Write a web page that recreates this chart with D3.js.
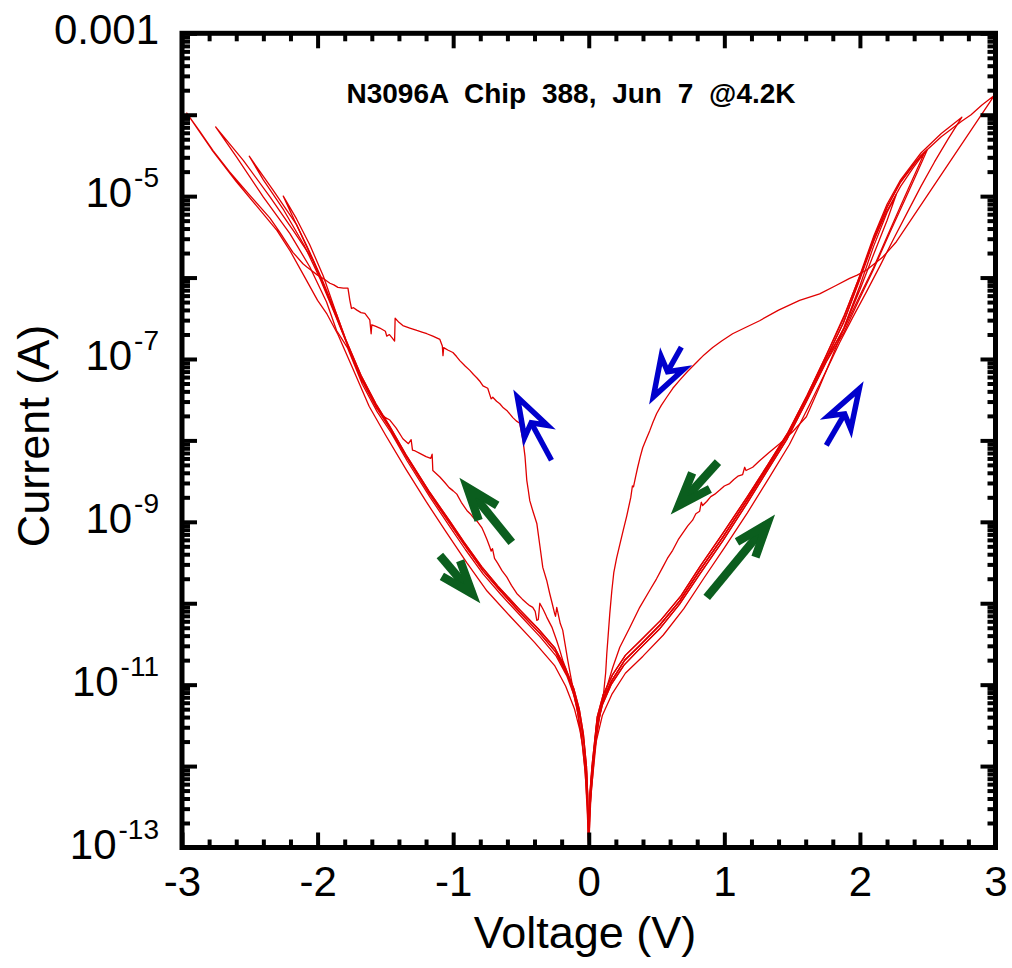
<!DOCTYPE html>
<html>
<head>
<meta charset="utf-8">
<script src="https://cdn.jsdelivr.net/npm/d3@7"></script>
<style>
  html, body { margin: 0; padding: 0; background: #fff; }
  svg { display: block; }
  text { font-family: "Liberation Sans", Arial, Helvetica, sans-serif; fill: #000; }
</style>
</head>
<body>
<svg id="chart" width="1012" height="968"></svg>
<script>
// ---------------------------------------------------------------------------
// I-V sweeps of N3096A chip 388 at 4.2 K.
// Every point is [voltage (V), log10 of |current| (A)].
// ---------------------------------------------------------------------------

const chartTitle = "N3096A Chip 388, Jun 7 @4.2K";
const xTickValues = [-3, -2, -1, 0, 1, 2, 3];
const yLabelExponents = [-3, -5, -7, -9, -11, -13];

// --- negative-bias legs from 0 V out to about -1.8 V (high-resistance state)
const negLow1 = [[0,-13],[-0.007,-12.42],[-0.015,-12.09],[-0.037,-11.69],[-0.066,-11.38],[-0.103,-11.13],[-0.162,-10.86],[-0.243,-10.6],[-0.361,-10.37],[-0.509,-10.11],[-0.656,-9.84],[-0.781,-9.6],[-0.914,-9.29],[-1.025,-9.02],[-1.172,-8.66],[-1.342,-8.21],[-1.467,-7.85],[-1.563,-7.6],[-1.673,-7.26],[-1.784,-6.81]];
const negLow2 = [[0,-13],[-0.008,-12.35],[-0.017,-12.0],[-0.04,-11.6],[-0.07,-11.3],[-0.11,-11.05],[-0.17,-10.8],[-0.25,-10.55],[-0.37,-10.32],[-0.52,-10.06],[-0.67,-9.79],[-0.79,-9.55],[-0.92,-9.25],[-1.03,-8.98],[-1.18,-8.62],[-1.35,-8.17],[-1.47,-7.82],[-1.57,-7.55],[-1.68,-7.2],[-1.79,-6.77]];
const negLow3 = [[0,-13],[-0.006,-12.48],[-0.014,-12.14],[-0.035,-11.74],[-0.063,-11.42],[-0.1,-11.17],[-0.16,-10.9],[-0.24,-10.65],[-0.36,-10.41],[-0.5,-10.16],[-0.65,-9.89],[-0.78,-9.64],[-0.91,-9.34],[-1.02,-9.07],[-1.17,-8.7],[-1.34,-8.25],[-1.46,-7.9],[-1.56,-7.65],[-1.67,-7.31],[-1.78,-6.86]];
const negLow4 = [[0,-13],[-0.006,-12.58],[-0.014,-12.25],[-0.035,-11.86],[-0.065,-11.56],[-0.105,-11.3],[-0.17,-11.02],[-0.25,-10.77],[-0.4,-10.48],[-0.58,-10.16],[-0.75,-9.85],[-0.9,-9.5],[-1.05,-9.13],[-1.2,-8.75],[-1.35,-8.35],[-1.5,-7.93],[-1.62,-7.58],[-1.75,-7.08],[-1.85,-6.7]];

// --- negative-bias high-voltage ends (up and back) for the -2.75, -2.5, -2.25 V sweeps
const negUp275  = [[-1.909,-6.28],[-2.032,-5.79],[-2.18,-5.42],[-2.351,-5.01],[-2.548,-4.56],[-2.752,-4.15]];
const negRet275 = [[-2.597,-4.52],[-2.401,-5.01],[-2.204,-5.46],[-2.057,-5.87],[-1.934,-6.3],[-1.86,-6.65]];
const negUp25   = [[-1.86,-6.45],[-1.96,-6.05],[-2.06,-5.68],[-2.155,-5.35],[-2.327,-4.93],[-2.504,-4.51]];
const negRet25  = [[-2.4,-4.8],[-2.25,-5.17],[-2.1,-5.6],[-1.98,-6.02],[-1.88,-6.42]];
const negRet225 = [[-2.17,-5.3],[-2.08,-5.62],[-1.98,-6.0],[-1.88,-6.4]];
const negRet3   = [[-2.78,-4.43],[-2.6,-4.82],[-2.45,-5.12],[-2.3,-5.42],[-2.2,-5.68],[-2.1,-5.98],[-2.0,-6.28],[-1.93,-6.45]];

// --- low-resistance branch swept from 0 V to -3 V (resets near -2 V)
const lrsNeg = [[0,-13],[-0.01,-12.5],[-0.03,-12.0],[-0.055,-11.6],[-0.081,-11.35],[-0.1,-11.2],[-0.118,-11.03],[-0.135,-10.88],[-0.155,-10.7],[-0.175,-10.5],[-0.192,-10.33],[-0.21,-10.25],[-0.236,-10.05],[-0.245,-10.16],[-0.251,-10.13],[-0.27,-10.0],[-0.288,-9.88],[-0.31,-9.72],[-0.339,-9.56],[-0.36,-9.3],[-0.383,-9.02],[-0.41,-8.88],[-0.435,-8.74],[-0.447,-8.6],[-0.457,-8.49],[-0.47,-8.2],[-0.485,-8.0],[-0.509,-7.79],[-0.535,-7.76],[-0.56,-7.72],[-0.6,-7.64],[-0.63,-7.6],[-0.656,-7.55],[-0.68,-7.52],[-0.708,-7.47],[-0.72,-7.49],[-0.745,-7.36],[-0.78,-7.33],[-0.8,-7.28],[-0.826,-7.23],[-0.85,-7.19],[-0.877,-7.14],[-0.91,-7.09],[-0.951,-7.02],[-0.975,-6.97],[-1.002,-6.92],[-1.04,-6.89],[-1.07,-6.86],[-1.075,-6.96],[-1.08,-6.84],[-1.098,-6.76],[-1.15,-6.72],[-1.194,-6.69],[-1.23,-6.67],[-1.268,-6.65],[-1.32,-6.62],[-1.371,-6.59],[-1.4,-6.55],[-1.428,-6.5],[-1.432,-6.78],[-1.45,-6.74],[-1.47,-6.7],[-1.49,-6.72],[-1.5,-6.66],[-1.541,-6.62],[-1.57,-6.6],[-1.6,-6.58],[-1.605,-6.69],[-1.615,-6.52],[-1.651,-6.44],[-1.68,-6.43],[-1.71,-6.4],[-1.735,-6.37],[-1.75,-6.38],[-1.762,-6.28],[-1.776,-6.13],[-1.81,-6.13],[-1.85,-6.12],[-1.88,-6.09],[-1.909,-6.07],[-1.95,-6.02],[-2.0,-5.97],[-2.04,-5.92],[-2.079,-5.87],[-2.108,-5.83],[-2.182,-5.69],[-2.241,-5.54],[-2.278,-5.445],[-2.351,-5.27],[-2.499,-4.99],[-2.65,-4.7],[-2.771,-4.44],[-2.87,-4.2],[-2.965,-3.98]];

// --- intermediate branch swept from 0 V to -2.25 V
const midNeg = [[0,-13],[-0.01,-12.6],[-0.025,-12.1],[-0.05,-11.7],[-0.088,-11.28],[-0.115,-11.1],[-0.14,-10.95],[-0.165,-10.82],[-0.192,-10.7],[-0.215,-10.57],[-0.236,-10.46],[-0.27,-10.3],[-0.31,-10.17],[-0.335,-10.08],[-0.361,-10.0],[-0.372,-10.2],[-0.383,-10.21],[-0.395,-10.1],[-0.413,-10.05],[-0.435,-10.03],[-0.457,-10.0],[-0.49,-9.95],[-0.531,-9.88],[-0.57,-9.78],[-0.604,-9.68],[-0.64,-9.6],[-0.671,-9.51],[-0.695,-9.45],[-0.71,-9.33],[-0.72,-9.36],[-0.73,-9.31],[-0.75,-9.22],[-0.77,-9.14],[-0.789,-9.07],[-0.82,-9.0],[-0.85,-8.95],[-0.875,-8.9],[-0.899,-8.86],[-0.94,-8.76],[-0.973,-8.66],[-1.0,-8.62],[-1.03,-8.58],[-1.06,-8.52],[-1.098,-8.45],[-1.13,-8.4],[-1.15,-8.37],[-1.155,-8.17],[-1.165,-8.22],[-1.2,-8.2],[-1.246,-8.16],[-1.28,-8.13],[-1.3,-8.12],[-1.31,-7.99],[-1.33,-8.04],[-1.371,-7.98],[-1.42,-7.85],[-1.467,-7.75],[-1.5,-7.72],[-1.541,-7.65],[-1.563,-7.6],[-1.673,-7.24],[-1.784,-6.8],[-1.86,-6.45],[-1.958,-5.98],[-2.057,-5.6],[-2.155,-5.28],[-2.253,-5.0]];

// --- positive-bias legs from 0 V out to about 1.75 V
const posLow1 = [[0,-13],[0.007,-12.45],[0.022,-12.09],[0.059,-11.48],[0.103,-11.19],[0.17,-10.95],[0.265,-10.7],[0.376,-10.52],[0.523,-10.27],[0.671,-9.97],[0.818,-9.6],[0.988,-9.19],[1.165,-8.74],[1.312,-8.35],[1.46,-7.95],[1.6,-7.5],[1.75,-7.0]];
const posLow2 = [[0,-13],[0.008,-12.35],[0.024,-12.0],[0.062,-11.4],[0.107,-11.12],[0.175,-10.88],[0.27,-10.64],[0.38,-10.46],[0.53,-10.21],[0.68,-9.91],[0.82,-9.55],[0.99,-9.14],[1.17,-8.69],[1.32,-8.3],[1.47,-7.9],[1.61,-7.45],[1.75,-6.96]];
const posLow3 = [[0,-13],[0.006,-12.52],[0.02,-12.16],[0.055,-11.56],[0.1,-11.25],[0.165,-11.0],[0.26,-10.76],[0.37,-10.57],[0.52,-10.32],[0.67,-10.01],[0.82,-9.64],[0.99,-9.23],[1.165,-8.78],[1.31,-8.39],[1.46,-7.99],[1.6,-7.54],[1.75,-7.04]];
const posLow4 = [[0,-13],[0.006,-12.6],[0.02,-12.28],[0.055,-11.7],[0.1,-11.38],[0.17,-11.12],[0.27,-10.86],[0.4,-10.65],[0.55,-10.39],[0.7,-10.07],[0.85,-9.69],[1.0,-9.32],[1.17,-8.89],[1.33,-8.46],[1.48,-8.05],[1.62,-7.59],[1.75,-7.15]];

// --- positive-bias high-voltage ends
const posUp3    = [[1.88,-6.55],[2.0,-6.0],[2.1,-5.52],[2.2,-5.13],[2.3,-4.83],[2.45,-4.5],[2.6,-4.27],[2.75,-4.08],[2.82,-4.0],[2.9,-3.88],[2.993,-3.76]];
const posUp275  = [[1.88,-6.5],[2.0,-5.97],[2.1,-5.5],[2.2,-5.1],[2.3,-4.8],[2.45,-4.47],[2.6,-4.23],[2.752,-4.03]];
const posRet275 = [[2.65,-4.3],[2.55,-4.58],[2.45,-4.88],[2.35,-5.2],[2.25,-5.52],[2.15,-5.85],[2.05,-6.17],[1.95,-6.48],[1.85,-6.8]];
const posUp25   = [[1.88,-6.55],[2.0,-6.02],[2.1,-5.56],[2.2,-5.14],[2.3,-4.82],[2.4,-4.6],[2.497,-4.43]];
const posRet25  = [[2.42,-4.72],[2.33,-5.05],[2.22,-5.45],[2.1,-5.9],[2.0,-6.25],[1.88,-6.68]];
const posUp25b  = [[1.88,-6.48],[2.0,-5.98],[2.1,-5.55],[2.2,-5.18],[2.3,-4.88],[2.39,-4.66],[2.478,-4.46]];
const posRet25b = [[2.4,-4.75],[2.3,-5.12],[2.2,-5.5],[2.1,-5.88],[2.0,-6.22],[1.88,-6.64]];
const posUp225  = [[1.88,-6.62],[2.0,-6.1],[2.1,-5.62],[2.2,-5.2],[2.268,-4.98]];

// --- low-resistance return from 3 V back to 0 V
const lrsPos = [[2.269,-5.56],[2.2,-5.69],[2.167,-5.75],[2.1,-5.84],[2.047,-5.91],[1.98,-5.97],[1.924,-6.01],[1.82,-6.1],[1.703,-6.2],[1.555,-6.28],[1.4,-6.4],[1.26,-6.53],[1.16,-6.61],[1.061,-6.69],[0.98,-6.78],[0.914,-6.86],[0.85,-6.95],[0.796,-7.04],[0.73,-7.15],[0.671,-7.26],[0.62,-7.36],[0.575,-7.47],[0.535,-7.57],[0.501,-7.67],[0.475,-7.77],[0.45,-7.88],[0.425,-7.98],[0.398,-8.09],[0.38,-8.2],[0.361,-8.33],[0.345,-8.45],[0.33,-8.57],[0.322,-8.56],[0.31,-8.7],[0.28,-8.93],[0.255,-9.1],[0.229,-9.28],[0.205,-9.45],[0.185,-9.62],[0.17,-9.85],[0.155,-10.13],[0.143,-10.4],[0.133,-10.62],[0.125,-10.85],[0.11,-11.1],[0.09,-11.3],[0.06,-11.6],[0.03,-12.0],[0.01,-12.5],[0,-13]];

// --- intermediate return from 2.25 V back to 0 V
const midPos = [[2.2,-5.3],[2.1,-5.72],[2.0,-6.15],[1.9,-6.55],[1.8,-6.95],[1.7,-7.35],[1.605,-7.71],[1.5,-7.9],[1.408,-8.04],[1.33,-8.15],[1.26,-8.25],[1.209,-8.33],[1.16,-8.37],[1.15,-8.33],[1.135,-8.42],[1.1,-8.44],[1.07,-8.48],[1.039,-8.53],[1.0,-8.56],[0.966,-8.61],[0.93,-8.66],[0.9,-8.69],[0.87,-8.75],[0.84,-8.8],[0.83,-8.76],[0.818,-8.87],[0.79,-8.9],[0.766,-8.98],[0.73,-9.05],[0.693,-9.14],[0.66,-9.22],[0.619,-9.35],[0.58,-9.45],[0.545,-9.56],[0.5,-9.7],[0.45,-9.84],[0.376,-10.05],[0.302,-10.3],[0.229,-10.54],[0.177,-10.79],[0.133,-11.03],[0.081,-11.35],[0.045,-11.8],[0.015,-12.4],[0,-13]];

// --- direction markers: [tail [V, A], tip [V, A]]
const blueArrows = [
  [[-0.275, 5.7e-9], [-0.540, 3.75e-8]],
  [[1.752, 8.7e-9], [2.010, 4.74e-8]],
  [[0.683, 1.40e-7], [0.462, 3.10e-8]]
];
const greenArrows = [
  [[0.953, 5.4e-9], [0.621, 1.32e-9]],
  [[0.870, 1.18e-10], [1.358, 1.14e-9]],
  [[-0.568, 5.6e-10], [-0.938, 3.23e-9]],
  [[-1.098, 3.86e-10], [-0.816, 1.08e-10]]
];

// full sweeps, each drawn as one continuous trace
const rev = a => a.slice().reverse();
const sweeps = [
  [...lrsNeg, ...negRet3, ...rev(negLow4)],
  [...negLow1, ...negUp275, ...negRet275, ...rev(negLow3)],
  [...negLow2, ...negUp25, ...negRet25, ...rev(negLow1)],
  [...midNeg, ...negRet225, ...rev(negLow2)],
  [...posLow1, ...posUp3, ...lrsPos],
  [...posLow2, ...posUp275, ...posRet275, ...rev(posLow4)],
  [...posLow1, ...posUp25, ...posRet25, ...rev(posLow3)],
  [...posLow2, ...posUp25b, ...posRet25b, ...rev(posLow1)],
  [...posLow3, ...posUp225, ...midPos]
];

// ---------------------------------------------------------------------------
const svg = d3.select("#chart");
const frame = { left: 182, right: 995.5, top: 33.3, bottom: 847.5 };

const x = d3.scaleLinear().domain([-3, 3]).range([frame.left, frame.right]);
const y = d3.scaleLog().domain([1e-13, 1e-3]).range([frame.bottom, frame.top]);

svg.append("defs").append("clipPath").attr("id", "plot-clip")
  .append("rect")
  .attr("x", frame.left).attr("y", frame.top)
  .attr("width", frame.right - frame.left).attr("height", frame.bottom - frame.top);

// traces
const line = d3.line()
  .x(d => x(d[0]))
  .y(d => y(Math.pow(10, d[1])))
  .curve(d3.curveLinear);

svg.append("g").attr("clip-path", "url(#plot-clip)")
  .selectAll("path").data(sweeps).join("path")
  .attr("d", line)
  .attr("fill", "none")
  .attr("stroke", "#e00000")
  .attr("stroke-width", 1.3)
  .attr("stroke-linejoin", "round");

// ---------------------------------------------------------------------------
// axes: inward ticks on all four sides
const decades = d3.range(-13, -2).map(e => Math.pow(10, e));
const minorY = d3.range(-13, -3).flatMap(e => d3.range(2, 10).map(k => k * Math.pow(10, e)));
const minorX = d3.range(-30, 31, 2).map(v => v / 10).filter(v => Math.abs(v - Math.round(v)) > 1e-9);

function styleAxis(g) {
  g.select(".domain").remove();
  g.selectAll(".tick line").attr("stroke", "#000").attr("stroke-width", 4);
}

const axes = svg.append("g");
// left
axes.append("g").attr("transform", `translate(${frame.left},0)`)
  .call(d3.axisLeft(y).tickValues(decades).tickSize(-15).tickFormat(() => "")).call(styleAxis);
axes.append("g").attr("transform", `translate(${frame.left},0)`)
  .call(d3.axisLeft(y).tickValues(minorY).tickSize(-8).tickFormat(() => "")).call(styleAxis);
// right
axes.append("g").attr("transform", `translate(${frame.right},0)`)
  .call(d3.axisRight(y).tickValues(decades).tickSize(-15).tickFormat(() => "")).call(styleAxis);
axes.append("g").attr("transform", `translate(${frame.right},0)`)
  .call(d3.axisRight(y).tickValues(minorY).tickSize(-8).tickFormat(() => "")).call(styleAxis);
// bottom (labelled)
const xAxisG = axes.append("g").attr("transform", `translate(0,${frame.bottom})`)
  .call(d3.axisBottom(x).tickValues(xTickValues).tickSize(-15).tickPadding(19).tickFormat(d => String(d)))
  .call(styleAxis);
xAxisG.selectAll("text")
  .attr("font-family", '"Liberation Sans", Arial, sans-serif')
  .attr("font-size", 42).attr("fill", "#000");
axes.append("g").attr("transform", `translate(0,${frame.bottom})`)
  .call(d3.axisBottom(x).tickValues(minorX).tickSize(-8).tickFormat(() => "")).call(styleAxis);
// top
axes.append("g").attr("transform", `translate(0,${frame.top})`)
  .call(d3.axisTop(x).tickValues(xTickValues).tickSize(-15).tickFormat(() => "")).call(styleAxis);
axes.append("g").attr("transform", `translate(0,${frame.top})`)
  .call(d3.axisTop(x).tickValues(minorX).tickSize(-8).tickFormat(() => "")).call(styleAxis);

// frame
svg.append("rect")
  .attr("x", frame.left).attr("y", frame.top)
  .attr("width", frame.right - frame.left).attr("height", frame.bottom - frame.top)
  .attr("fill", "none").attr("stroke", "#000").attr("stroke-width", 5)
  .attr("stroke-linejoin", "miter");

// y tick labels: 0.001 then powers of ten with superscript exponents
const yLabels = svg.append("g");
yLabelExponents.forEach(e => {
  const t = yLabels.append("text")
    .attr("x", frame.left - 23)
    .attr("y", y(Math.pow(10, e)) + 11)
    .attr("text-anchor", "end")
    .attr("font-size", 42);
  if (e === -3) {
    t.text("0.001");
  } else {
    t.append("tspan").text("10");
    t.append("tspan").attr("font-size", 28).attr("dx", 2).attr("dy", -20).text(String(e));
  }
});

// axis titles and heading
svg.append("text")
  .attr("x", 585).attr("y", 948)
  .attr("text-anchor", "middle").attr("font-size", 45)
  .text("Voltage (V)");
svg.append("text")
  .attr("transform", "translate(49,436) rotate(-90)")
  .attr("text-anchor", "middle").attr("font-size", 45)
  .text("Current (A)");
svg.append("text")
  .attr("x", 571).attr("y", 103)
  .attr("text-anchor", "middle").attr("font-size", 28).attr("font-weight", "bold")
  .style("word-spacing", "8px")
  .text(chartTitle);

// ---------------------------------------------------------------------------
// direction arrows
const arrowLayer = svg.append("g");

function unitBack(tail, tip) {
  const dx = tail[0] - tip[0], dy = tail[1] - tip[1];
  const L = Math.hypot(dx, dy);
  return [dx / L, dy / L];
}

blueArrows.forEach(([tailD, tipD]) => {
  const S = [x(tailD[0]), y(tailD[1])];
  const T0 = [x(tipD[0]), y(tipD[1])];
  const u = unitBack(S, T0);
  const w = [-u[1], u[0]];
  const T = [T0[0] + 4 * u[0], T0[1] + 4 * u[1]];
  const at = (a, b) => [T[0] + a * u[0] + b * w[0], T[1] + a * u[1] + b * w[1]];
  const notch = at(29, 0);
  arrowLayer.append("line")
    .attr("x1", notch[0]).attr("y1", notch[1]).attr("x2", S[0]).attr("y2", S[1])
    .attr("stroke", "#0000cc").attr("stroke-width", 5.5);
  const head = [T, at(39, 13), notch, at(39, -13)];
  arrowLayer.append("path")
    .attr("d", "M" + head.map(p => p.join(",")).join("L") + "Z")
    .attr("fill", "#fff").attr("stroke", "#0000cc").attr("stroke-width", 5.5)
    .attr("stroke-linejoin", "miter").attr("stroke-miterlimit", 6);
});

greenArrows.forEach(([tailD, tipD]) => {
  const S = [x(tailD[0]), y(tailD[1])];
  const T0 = [x(tipD[0]), y(tipD[1])];
  const u = unitBack(S, T0);
  const T = [T0[0] + 9 * u[0], T0[1] + 9 * u[1]];
  const ang = 20 * Math.PI / 180, len = 35;
  const rot = s => [u[0] * Math.cos(s * ang) - u[1] * Math.sin(s * ang),
                    u[0] * Math.sin(s * ang) + u[1] * Math.cos(s * ang)];
  const r1 = rot(1), r2 = rot(-1);
  const b1 = [T[0] + len * r1[0], T[1] + len * r1[1]];
  const b2 = [T[0] + len * r2[0], T[1] + len * r2[1]];
  arrowLayer.append("line")
    .attr("x1", T[0]).attr("y1", T[1]).attr("x2", S[0]).attr("y2", S[1])
    .attr("stroke", "#0b5e1e").attr("stroke-width", 8.5);
  arrowLayer.append("path")
    .attr("d", `M${b1[0]},${b1[1]}L${T[0]},${T[1]}L${b2[0]},${b2[1]}`)
    .attr("fill", "none").attr("stroke", "#0b5e1e").attr("stroke-width", 8.5)
    .attr("stroke-linejoin", "miter").attr("stroke-miterlimit", 6);
});
</script>
</body>
</html>
